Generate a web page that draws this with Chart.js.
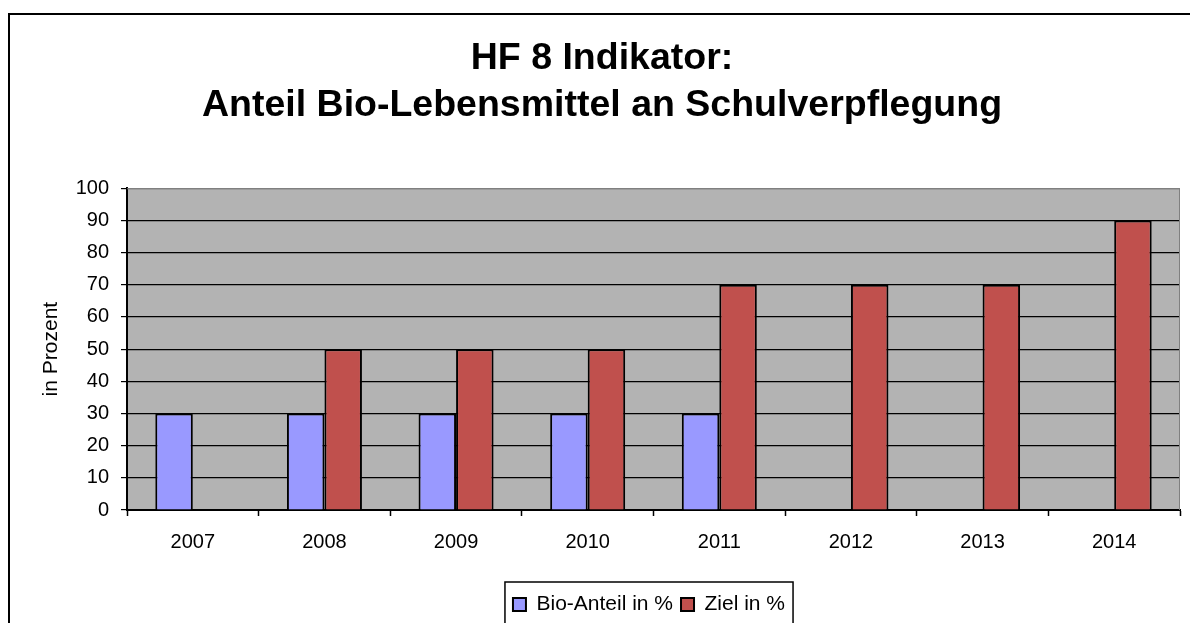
<!DOCTYPE html>
<html>
<head>
<meta charset="utf-8">
<script src="https://cdn.jsdelivr.net/npm/chart.js@4"></script>
<style>
  html, body { margin: 0; padding: 0; background: #fff; overflow: hidden; }
  canvas { display: block; }
</style>
</head>
<body>
<canvas id="hf8-chart" width="1200" height="650"></canvas>
<script>
// data
const years = ['2007', '2008', '2009', '2010', '2011', '2012', '2013', '2014'];
const bioAnteil = [30, 30, 30, 30, 30, null, null, null];
const ziel = [null, 50, 50, 50, 70, 70, 70, 90];

Chart.defaults.font.family = '"Liberation Sans", Arial, sans-serif';
Chart.defaults.color = '#000';

const LEGEND_SHIFT = 47; // legend sits right of centre in the original

// gray plot background, outer frame and the legend box
const frame = {
    id: 'frame',
    afterLayout(chart) {
        const lg = chart.legend;
        lg.left += LEGEND_SHIFT;
        lg.right += LEGEND_SHIFT;
        (lg.legendHitBoxes || []).forEach(h => { h.left += LEGEND_SHIFT; });
    },
    beforeDraw(chart) {
        const c = chart.ctx;
        const a = chart.chartArea;
        c.save();
        c.lineWidth = 2;
        c.strokeStyle = '#000';
        c.strokeRect(9, 14, 1230, 700);
        c.fillStyle = '#b3b3b3';
        c.fillRect(a.left, a.top, a.right - a.left, a.bottom - a.top);
        c.restore();
    },
    beforeDatasetsDraw(chart) {
        const c = chart.ctx;
        const a = chart.chartArea;
        c.save();
        c.lineWidth = 1;
        c.strokeStyle = '#808080';
        c.beginPath();
        c.moveTo(a.left, a.top + 0.5);
        c.lineTo(a.right - 0.5, a.top + 0.5);
        c.lineTo(a.right - 0.5, a.bottom);
        c.stroke();
        c.restore();
    },
    afterDraw(chart) {
        const hb = chart.legend.legendHitBoxes;
        if (!hb || !hb.length) return;
        const last = hb[hb.length - 1];
        const c = chart.ctx;
        c.save();
        c.lineWidth = 1.5;
        c.strokeStyle = '#000';
        const left = hb[0].left - 8;
        const right = last.left + last.width + 8;
        const top = hb[0].top - 12;
        c.strokeRect(left, top, right - left, 200);
        c.restore();
    }
};

const ctx = document.getElementById('hf8-chart').getContext('2d');
const hf8Chart = new Chart(ctx, {
    type: 'bar',
    data: {
        labels: years,
        datasets: [{
            label: 'Bio-Anteil in %',
            data: bioAnteil,
            backgroundColor: '#9999ff',
            borderColor: '#000',
            borderWidth: 2
        }, {
            label: 'Ziel in %',
            data: ziel,
            backgroundColor: '#c0504d',
            borderColor: '#000',
            borderWidth: 2
        }]
    },
    options: {
        responsive: false,
        animation: false,
        datasets: {
            bar: { barPercentage: 1, categoryPercentage: 0.57 }
        },
        layout: {
            padding: { top: 0, left: 24, right: 20, bottom: 25 }
        },
        plugins: {
            title: {
                display: true,
                text: ['HF 8 Indikator:', 'Anteil Bio-Lebensmittel an Schulverpflegung'],
                font: { size: 37.5, weight: 'bold', lineHeight: 1.23 },
                color: '#000',
                padding: { top: 36, bottom: 60 }
            },
            legend: {
                position: 'bottom',
                labels: {
                    boxWidth: 13,
                    boxHeight: 13,
                    padding: 8,
                    font: { size: 21 },
                    color: '#000'
                }
            },
            tooltip: { enabled: false }
        },
        scales: {
            x: {
                grid: {
                    drawOnChartArea: false,
                    tickLength: 6,
                    tickColor: '#000',
                    tickWidth: 1.5
                },
                border: { color: '#000', width: 2 },
                ticks: { font: { size: 20 }, padding: 14, color: '#000' },
                afterFit(scale) { scale.height = 76; }
            },
            y: {
                min: 0,
                max: 100,
                ticks: { stepSize: 10, font: { size: 20 }, padding: 12, color: '#000' },
                grid: {
                    color: (c) => (c.tick && c.tick.value === 100 ? '#808080' : '#000'),
                    tickColor: '#000',
                    tickLength: 6,
                    lineWidth: 1.2
                },
                border: { color: '#000', width: 2 },
                title: {
                    display: true,
                    text: 'in Prozent',
                    font: { size: 21 },
                    color: '#000',
                    padding: { top: 15, bottom: 0 }
                },
                afterFit(scale) { scale.width = 103; }
            }
        }
    },
    plugins: [frame]
});
</script>
</body>
</html>
